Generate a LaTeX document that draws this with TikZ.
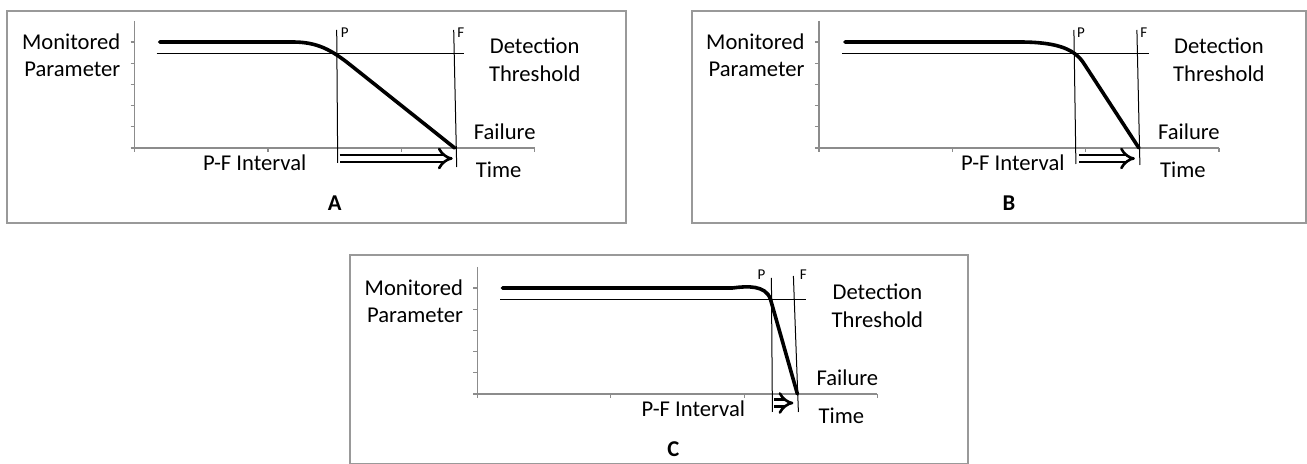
\documentclass[tikz,border=0pt]{standalone}
\usepackage{fontspec}
\setmainfont{Carlito}
\usetikzlibrary{arrows.meta}
\tikzset{panelbox/.style={draw=black!40, line width=0.6pt}}
\tikzset{axisline/.style={draw=black!45, line width=0.6pt}}
\tikzset{guide/.style={draw, line width=0.5pt}}
\tikzset{trend/.style={draw, line width=1.8pt, line join=round, line cap=round}}
\tikzset{pfarr/.style={draw, double, double distance=2.3pt, line width=1.3pt, -{Implies[scale=1.2]}}}
\tikzset{lbl/.style={font=\fontsize{11.3}{13}\selectfont, inner sep=0pt}}
\tikzset{tag/.style={font=\fontsize{7.5}{9}\selectfont, inner sep=0pt}}
\newcommand\pfpanel[5]{
	\begin{scope}[shift={#2}]
		\draw[axisline] (0,-127) -- (0,0) -- (400,0);
		\foreach \ty in {0,-21.2,-42.4,-63.6,-84.8,-106} \draw[axisline] (-4,\ty) -- (0,\ty);
		\foreach \tx in {0,133.3,266.7,400} \draw[axisline] (\tx,0) -- (\tx,4);
		\node[lbl, anchor=base east] (#1-mon) at (-14,-98) {Monitored};
		\node[lbl, anchor=base east] (#1-par) at (-14,-71.5) {Parameter};
		\node[lbl] (#1-det) at (400,-102) {Detection};
		\node[lbl] (#1-thr) at (400,-74) {Threshold};
		\node[lbl] (#1-fail) at (370,-16) {Failure};
		\node[lbl] (#1-time) at (364,22) {Time};
		\node[lbl] (#1-int) at (#3,15) {P-F Interval};
		\node[lbl, font=\fontsize{11.3}{13}\selectfont\bfseries] (#1-name) at (#4,55) {#5};
	\end{scope}
	}

\begin{document}
\begin{tikzpicture}[x=0.5pt, y=-0.5pt]
	\useasboundingbox (0,0) rectangle (1307,464);

	% frames
	\draw[panelbox] (7,11) rectangle (626,223);
	\draw[panelbox] (692,11) rectangle (1306,223);
	\draw[panelbox] (350,255) rectangle (968,463.4);

	\pfpanel{A}{(134.7,148)}{120}{200}{A}
	\pfpanel{B}{(818.9,148)}{194}{190}{B}
	\pfpanel{C}{(477.4,394)}{216}{196}{C}

	% A: slow decline
	\begin{scope}[shift={(134.7,148)}]
		\draw[guide] (22,-94) -- (329,-94);
		\coordinate (A-p0) at (202,-118); \coordinate (A-p1) at (203,15);
		\coordinate (A-f0) at (319,-118); \coordinate (A-f1) at (322,19);
		\draw[guide] (A-p0) -- (A-p1);
		\draw[guide] (A-f0) -- (A-f1);
		\node[tag] (A-P) at (210,-115) {P};
		\node[tag] (A-F) at (326,-115) {F};
		\draw[trend] (25,-106) -- (158,-106) .. controls (183,-106) and (197,-98) .. (217,-82) -- (320,0);
		\coordinate (A-a0) at (205,10.5); \coordinate (A-a1) at (318,10.5);
		\draw[pfarr] (A-a0) -- (A-a1);
	\end{scope}

	% B: faster decline
	\begin{scope}[shift={(818.9,148)}]
		\draw[guide] (23,-94) -- (330,-94);
		\coordinate (B-p0) at (255,-118); \coordinate (B-p1) at (257,16);
		\coordinate (B-f0) at (318,-118); \coordinate (B-f1) at (321,17);
		\draw[guide] (B-p0) -- (B-p1);
		\draw[guide] (B-f0) -- (B-f1);
		\node[tag] (B-P) at (262,-115) {P};
		\node[tag] (B-F) at (325,-115) {F};
		\draw[trend] (26,-106) -- (200,-106) .. controls (236,-106) and (254,-100) .. (264,-86) -- (320,0);
		\coordinate (B-a0) at (260,10.5); \coordinate (B-a1) at (316,10.5);
		\draw[pfarr] (B-a0) -- (B-a1);
	\end{scope}

	% C: sudden drop
	\begin{scope}[shift={(477.4,394)}]
		\draw[guide] (23,-94) -- (329,-94);
		\coordinate (C-p0) at (294,-116); \coordinate (C-p1) at (295,18);
		\coordinate (C-f0) at (316,-118); \coordinate (C-f1) at (321,18);
		\draw[guide] (C-p0) -- (C-p1);
		\draw[guide] (C-f0) -- (C-f1);
		\node[tag] (C-P) at (284,-119) {P};
		\node[tag] (C-F) at (326,-119) {F};
		\draw[trend] (25,-106) -- (255,-106) .. controls (270,-108) and (288,-109) .. (293,-95) -- (320,0);
		\coordinate (C-a0) at (297,9); \coordinate (C-a1) at (316,9);
		\draw[pfarr] (C-a0) -- (C-a1);
	\end{scope}
\end{tikzpicture}
\end{document}
